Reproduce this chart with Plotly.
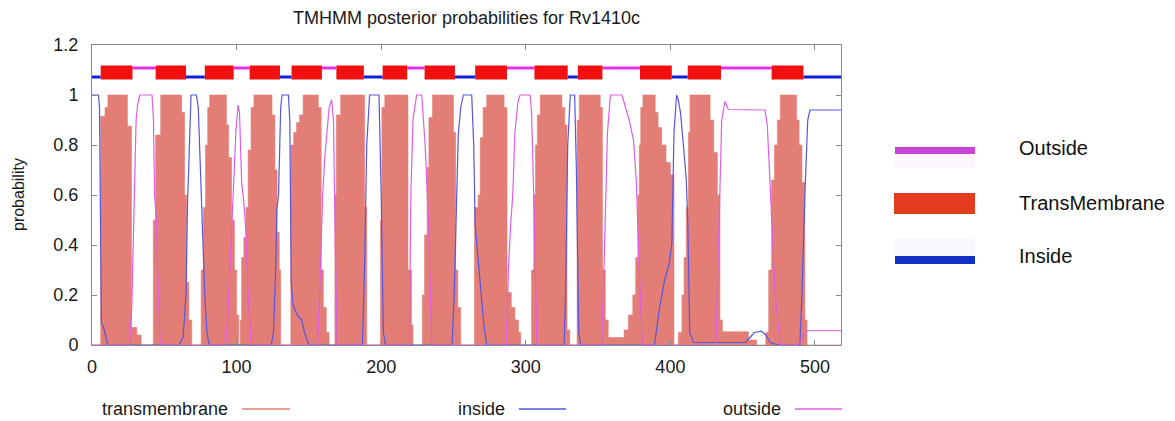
import plotly.graph_objects as go

# ---------------- data ----------------
seq_len = 518

# transmembrane posterior probability (step outline, residue -> prob)
tm_x = [0,
        6, 9, 11, 24.5, 27.3, 31, 34,
        42.4, 44, 47.5, 62, 64, 65.5, 67, 69,
        75.5, 77, 78.5, 80, 81.4, 93, 94.5, 96.5, 98.5, 100, 101.5,
        102.5, 103.5, 105, 106.5, 108, 110, 112, 124.5, 126.5, 128, 129.5, 130.5,
        137.5, 139.5, 141.5, 143.5, 146, 156.5, 158.5, 160, 162, 164,
        168, 169, 172, 188.5, 190,
        199.5, 200.5, 202.5, 218.5, 221, 222,
        228.5, 230, 231.8, 233, 235.5, 250, 251.5, 253, 255,
        264.5, 267, 268.5, 270.5, 273, 285, 287, 290, 292.5, 295, 296.5,
        304, 305.5, 306.7, 308, 310, 325, 327, 328.5, 330.5,
        335.5, 337, 351.5, 353, 355, 357, 368, 371, 374, 376, 377.5, 378.5, 379.5, 381,
        389.5, 391.5, 394, 397, 400, 402.5,
        405.5, 408, 409.5, 411, 412.5, 413.6, 427.5, 430, 432.5, 434.3, 436, 454, 459.6,
        466, 468, 470, 472, 474, 476, 487.3, 489, 491, 493, 494.5, 518]
tm_y = [0,
        0.915, 0.95, 1.0, 0.875, 0.07, 0.04, 0,
        0.5, 0.84, 1.0, 0.93, 0.6, 0.25, 0.1, 0,
        0.3, 0.55, 0.8, 0.95, 1.0, 0.88, 0.75, 0.5, 0.3, 0.12, 0,
        0.1, 0.35, 0.43, 0.55, 0.78, 0.95, 1.0, 0.92, 0.7, 0.45, 0.3, 0,
        0.8, 0.85, 0.89, 0.92, 1.0, 0.95, 0.3, 0.15, 0.05, 0,
        0.6, 0.92, 1.0, 0.55, 0,
        0.5, 0.95, 1.0, 0.3, 0.08, 0,
        0.2, 0.44, 0.71, 0.91, 1.0, 0.85, 0.3, 0.15, 0,
        0.55, 0.6, 0.83, 0.95, 1.0, 0.95, 0.21, 0.15, 0.1, 0.05, 0,
        0.3, 0.6, 0.8, 0.92, 1.0, 0.95, 0.88, 0.06, 0,
        0.9, 1.0, 0.95, 0.3, 0.1, 0.03, 0.06, 0.12, 0.2, 0.35, 0.6, 0.8, 0.95, 1.0,
        0.93, 0.87, 0.8, 0.73, 0.68, 0,
        0.05, 0.2, 0.35, 0.55, 0.85, 1.0, 0.9, 0.77, 0.6, 0.1, 0.053, 0.02, 0,
        0.05, 0.3, 0.66, 0.8, 0.9, 1.0, 0.9, 0.8, 0.65, 0.1, 0, 0]

# inside posterior probability
in_x = [0, 4.5, 5.2, 6, 6.5, 8, 9.5, 11,
        60, 63, 65, 66, 68.5, 72.2, 73.5, 75, 76.5, 78, 79.5, 81,
        124, 125.5, 127, 127.8, 129, 130.5, 131.5, 135.8, 136.8, 137.8, 139, 142, 145, 147, 150,
        187, 188.5, 190, 192, 198.5, 200, 201.5, 203,
        249, 250.5, 252, 253.3, 255, 256.8, 262.6, 264, 265, 267, 269, 271, 273,
        326.5, 327.5, 329, 330.8, 333.8, 335, 336.6, 338,
        389, 392, 394, 396, 399, 401, 402.5, 404.3, 405.5, 407, 409, 411, 412, 413.4, 416,
        452, 455, 458, 463, 466, 469, 475, 489.5, 491, 493, 495, 496.5, 518]
in_y = [1.0, 1.0, 0.95, 0.15, 0.09, 0.07, 0.04, 0.0,
        0.0, 0.03, 0.2, 0.55, 1.0, 1.0, 0.95, 0.7, 0.45, 0.2, 0.05, 0.0,
        0.0, 0.05, 0.3, 0.54, 0.6, 0.95, 1.0, 1.0, 0.9, 0.25, 0.16, 0.12, 0.1, 0.05, 0.0,
        0.0, 0.3, 0.8, 1.0, 1.0, 0.6, 0.05, 0.0,
        0.0, 0.2, 0.6, 0.84, 0.95, 1.0, 1.0, 0.8, 0.48, 0.35, 0.2, 0.08, 0.0,
        0.0, 0.2, 0.8, 1.0, 1.0, 0.7, 0.05, 0.0,
        0.0, 0.13, 0.2, 0.26, 0.32, 0.4, 0.85, 1.0, 0.98, 0.93, 0.8, 0.66, 0.5, 0.05, 0.01,
        0.01, 0.03, 0.05, 0.055, 0.04, 0.01, 0.0, 0.0, 0.2, 0.6, 0.9, 0.94, 0.94]

# outside posterior probability
out_x = [0, 26, 27.5, 29, 30.5, 31.5, 33, 41.5, 42.5, 43.3, 44.5, 46, 47, 48,
         92.5, 94, 96, 98, 99.5, 101, 102, 103.5, 105, 106.5, 108, 110,
         156, 158, 159.5, 161, 162.5, 164, 165.7, 167, 168, 169.5,
         219.5, 220.5, 222, 224.5, 228, 230.4, 232.6, 234, 235,
         286.5, 288, 289.5, 291, 292.5, 294.5, 296, 303, 304, 305.5, 307.7,
         352.5, 354.5, 356.5, 358.5, 366.5, 369, 371.5, 374.5, 376.5, 378.5, 380.5,
         431.5, 432.5, 434, 435.5, 437.8, 440, 465.4, 467, 468.5, 470.5, 472.5, 474.6, 476,
         488, 491, 494.3, 518]
out_y = [0, 0, 0.15, 0.6, 0.9, 0.96, 1.0, 1.0, 0.9, 0.6, 0.5, 0.2, 0.02, 0,
         0, 0.12, 0.4, 0.65, 0.85, 0.96, 0.93, 0.65, 0.57, 0.45, 0.2, 0,
         0, 0.3, 0.6, 0.75, 0.85, 0.95, 0.98, 0.9, 0.5, 0,
         0, 0.6, 0.9, 1.0, 1.0, 0.8, 0.51, 0.2, 0,
         0, 0.3, 0.48, 0.6, 0.85, 0.97, 1.0, 1.0, 0.93, 0.6, 0,
         0, 0.4, 0.85, 1.0, 1.0, 0.95, 0.9, 0.82, 0.65, 0.3, 0,
         0, 0.2, 0.6, 0.9, 0.975, 0.942, 0.94, 0.88, 0.7, 0.45, 0.2, 0.08, 0,
         0, 0.03, 0.057, 0.057]

# predicted topology (start, end residues)
tm_segments = [(6, 28), (44, 65), (78, 98), (109, 130), (138, 159), (169, 188), (201, 218),
               (230, 251), (265, 287), (306, 329), (336, 353), (379, 401), (412, 435), (470, 492)]
inside_segments = [(0, 6), (65, 78), (130, 138), (188, 201), (251, 265), (329, 336),
                   (401, 412), (492, 518)]
outside_segments = [(28, 44), (98, 109), (159, 169), (218, 230), (287, 306), (353, 379),
                    (435, 470)]

x_ticks = [0, 100, 200, 300, 400, 500]
y_ticks = [0, 0.2, 0.4, 0.6, 0.8, 1.0, 1.2]

title_text = "TMHMM posterior probabilities for Rv1410c"

# ---------------- style ----------------
FONT = "Liberation Sans, Arial, Helvetica, sans-serif"
C_TM = "#E27E76"
C_IN = "#5656E2"
C_OUT = "#DE5EE6"
C_BAR_TM = "#F01010"
C_BAR_IN = "#1020D8"
C_BAR_OUT = "#E030E8"
AX = "#8A8A8A"

fig = go.Figure()

fig.add_trace(go.Scatter(x=tm_x, y=tm_y, mode="lines", line=dict(shape="hv", width=0.6, color=C_TM),
                         fill="tozeroy", fillcolor=C_TM, name="transmembrane", showlegend=False,
                         hoverinfo="skip"))
fig.add_trace(go.Scatter(x=in_x, y=in_y, mode="lines", line=dict(color=C_IN, width=1.2),
                         name="inside", showlegend=False))
fig.add_trace(go.Scatter(x=out_x, y=out_y, mode="lines", line=dict(color=C_OUT, width=1.2),
                         name="outside", showlegend=False))

# topology band: one trace per segment (TM drawn last so it covers the thin lines)
for s, e in outside_segments:
    fig.add_trace(go.Scatter(x=[s, e], y=[1.108, 1.108], mode="lines",
                             line=dict(color=C_BAR_OUT, width=3),
                             showlegend=False, hoverinfo="skip"))
for s, e in inside_segments:
    fig.add_trace(go.Scatter(x=[s, e], y=[1.072, 1.072], mode="lines",
                             line=dict(color=C_BAR_IN, width=3),
                             showlegend=False, hoverinfo="skip"))
for s, e in tm_segments:
    fig.add_trace(go.Scatter(x=[s, e], y=[1.09, 1.09], mode="lines",
                             line=dict(color=C_BAR_TM, width=14),
                             showlegend=False, hoverinfo="skip"))

# the page has an 8px body margin: figure is shrunk by 8px and margins shifted accordingly
W, H = 1167, 413
fig.update_layout(
    width=W, height=H,
    margin=dict(l=84, r=334, t=37, b=76),
    paper_bgcolor="white", plot_bgcolor="white",
    font=dict(family=FONT, size=18, color="#1a1a1a"),
    title=dict(text=title_text, x=0.5, xref="paper", y=1 - 10 / H, yref="container",
               yanchor="middle", xanchor="center", font=dict(size=18, color="#1a1a1a")),
    showlegend=False,
)
fig.update_xaxes(range=[0, seq_len], tickvals=x_ticks, ticks="inside", ticklen=5, tickcolor=AX,
                 showline=True, linecolor=AX, linewidth=1, mirror="ticks", showgrid=False,
                 zeroline=False, ticklabelstandoff=5, tickfont=dict(size=18))
fig.update_yaxes(range=[0, 1.2], tickvals=y_ticks, ticktext=[("%g" % v) for v in y_ticks],
                 ticks="inside", ticklen=5, tickcolor=AX,
                 showline=True, linecolor=AX, linewidth=1, mirror="ticks", showgrid=False,
                 zeroline=False, ticklabelstandoff=9, tickfont=dict(size=18))


# helpers: page pixel (reference picture) -> paper coordinates
def px_x(px):
    return (px - 92) / 749


def px_y(py):
    return (345 - py) / 300


# y-axis label
fig.add_annotation(text="probability", xref="paper", yref="paper", x=px_x(18), y=0.5,
                   textangle=-90, showarrow=False, font=dict(size=16), xanchor="center",
                   yanchor="middle")

# bottom key (gnuplot style)
bottom_key = [("transmembrane", 230, 242, 290, C_TM), ("inside", 507, 519, 566, C_IN),
              ("outside", 783, 795, 842, C_OUT)]
for txt, tx, l0, l1, col in bottom_key:
    fig.add_annotation(text=txt, xref="paper", yref="paper", x=px_x(tx), y=px_y(409),
                       xanchor="right", yanchor="middle", showarrow=False, font=dict(size=18))
    fig.add_shape(type="line", xref="paper", yref="paper", x0=px_x(l0), x1=px_x(l1),
                  y0=px_y(409), y1=px_y(409), line=dict(color=col, width=1.3))

# right-hand topology legend
fig.add_shape(type="rect", xref="paper", yref="paper", x0=px_x(895), x1=px_x(975),
              y0=px_y(168), y1=px_y(154), fillcolor="#FDF6FD", line=dict(width=0))
fig.add_shape(type="rect", xref="paper", yref="paper", x0=px_x(895), x1=px_x(975),
              y0=px_y(154), y1=px_y(147), fillcolor="#C844D4", line=dict(width=0))
fig.add_shape(type="rect", xref="paper", yref="paper", x0=px_x(894), x1=px_x(975),
              y0=px_y(214), y1=px_y(193), fillcolor="#E23B1E", line=dict(width=0))
fig.add_shape(type="rect", xref="paper", yref="paper", x0=px_x(895), x1=px_x(975),
              y0=px_y(256), y1=px_y(238), fillcolor="#F8F9FD", line=dict(width=0))
fig.add_shape(type="rect", xref="paper", yref="paper", x0=px_x(895), x1=px_x(975),
              y0=px_y(264), y1=px_y(256), fillcolor="#1230C4", line=dict(width=0))
for txt, py in [("Outside", 148), ("TransMembrane", 203), ("Inside", 256)]:
    fig.add_annotation(text=txt, xref="paper", yref="paper", x=px_x(1017), y=px_y(py),
                       xanchor="left", yanchor="middle", showarrow=False,
                       font=dict(size=20, color="#111111"))

fig.write_html("out.html")
